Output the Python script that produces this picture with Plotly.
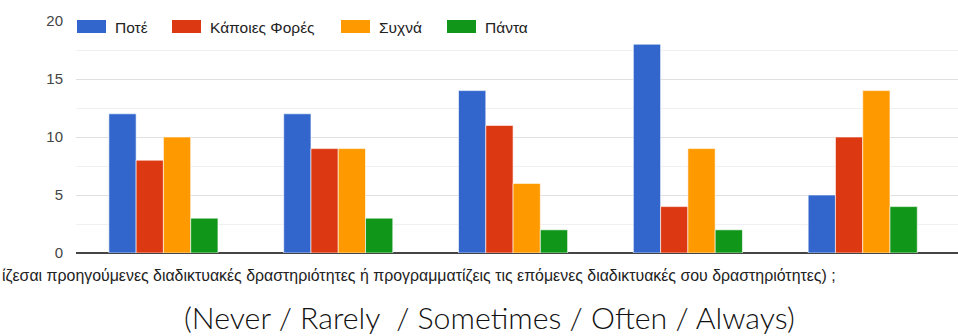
import plotly.graph_objects as go

categories = ["1", "2", "3", "4", "5"]
series_names = ["Ποτέ", "Κάποιες Φορές", "Συχνά", "Πάντα"]
pote = [12, 12, 14, 18, 5]
kapoies = [8, 9, 11, 4, 10]
sychna = [10, 9, 6, 9, 14]
panta = [3, 3, 2, 2, 4]
colors = ["#3366cc", "#dc3912", "#ff9900", "#109618"]
y_ticks = [0, 5, 10, 15, 20]
axis_text = ("ίζεσαι προηγούμενες διαδικτυακές δραστηριότητες ή προγραμματίζεις "
             "τις επόμενες διαδικτυακές σου δραστηριότητες) ;")
caption = "(Never / Rarely  / Sometimes / Often / Always)"

W, H = 958, 336
ML, MR, MT, MB = 76, 0, 21, 83
PW, PH = W - ML - MR, H - MT - MB


def px(x):
    return (x - ML) / PW


def py(y):
    return (H - MB - y) / PH


fig = go.Figure()
for name, vals, col in zip(series_names, [pote, kapoies, sychna, panta], colors):
    fig.add_trace(go.Bar(
        x=categories, y=vals, name=name,
        marker=dict(color=col, line=dict(color="rgba(255,255,255,0.6)", width=1)),
        showlegend=False,
    ))

# manual legend (wide swatches as in reference)
legend_x = [77, 172, 341, 447]
shapes = []
annotations = []
for i, (name, col) in enumerate(zip(series_names, colors)):
    x0 = legend_x[i]
    shapes.append(dict(type="rect", xref="paper", yref="paper",
                       x0=px(x0), x1=px(x0 + 29), y0=py(33), y1=py(20),
                       fillcolor=col, line=dict(width=0), layer="above"))
    annotations.append(dict(x=px(x0 + 36), y=py(27), xref="paper", yref="paper",
                            text=name, showarrow=False, xanchor="left", yanchor="middle",
                            font=dict(family="Liberation Sans, Arial", size=15.5, color="#222")))

annotations.append(dict(x=px(0), y=py(276), xref="paper", yref="paper", text=axis_text,
                        showarrow=False, xanchor="left", yanchor="middle",
                        font=dict(family="Liberation Sans, Arial", size=15.9, color="#222")))
annotations.append(dict(x=px(489), y=py(317), xref="paper", yref="paper", text=caption,
                        showarrow=False, xanchor="center", yanchor="middle",
                        font=dict(family="Lato, Open Sans", size=30.3, color="#111", weight=300)))

fig.update_layout(
    width=W, height=H,
    margin=dict(l=ML, r=MR, t=MT, b=MB, pad=0),
    paper_bgcolor="white", plot_bgcolor="white",
    barmode="group", bargap=0.376, bargroupgap=0,
    shapes=shapes, annotations=annotations,
    xaxis=dict(range=[-0.5, 4.545], showticklabels=False, showgrid=False,
               zeroline=False, showline=False, fixedrange=True),
    yaxis=dict(range=[0, 20], tickvals=y_ticks, showgrid=True, gridcolor="#e0e0e0",
               gridwidth=1, zeroline=True, zerolinecolor="#444", zerolinewidth=2,
               tickfont=dict(family="Liberation Sans, Arial", size=15, color="#444"),
               ticklabelstandoff=12,
               minor=dict(dtick=2.5, tick0=0, showgrid=True, gridcolor="#f0f0f0", gridwidth=1)),
)

fig.write_html("out.html")
